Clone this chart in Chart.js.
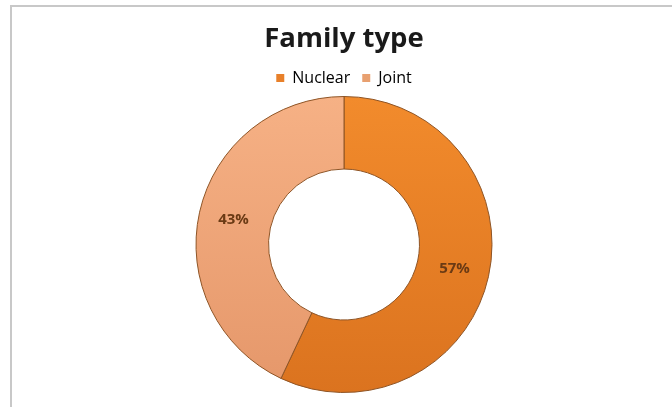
<!DOCTYPE html>
<html>
<head>
<meta charset="utf-8">
<script src="https://cdn.jsdelivr.net/npm/chart.js@4.4.1/dist/chart.umd.min.js"></script>
<style>
  html, body { margin: 0; padding: 0; background: #fff; }
  #wrap { position: relative; width: 672px; height: 407px; overflow: hidden; }
  #frame { position: absolute; left: 10px; top: 5px; width: 700px; height: 450px;
           border-top: 2px solid #c8c8c8; border-left: 2px solid #c8c8c8; box-sizing: border-box; }
  canvas { position: absolute; left: 0; top: 0; }
</style>
</head>
<body>
<div id="wrap">
  <div id="frame"></div>
  <canvas id="c" width="672" height="407"></canvas>
</div>
<script>
const titleText = "Family type";
const categories = ["Nuclear", "Joint"];
const values = [57, 43];
const valueLabels = ["57%", "43%"];

const topColors = ["#F28B2C", "#F6B185"];
const bottomColors = ["#DB731F", "#E5976A"];
const legendColors = ["#E8802A", "#E8A070"];

function grad(ctx, i) {
  const chart = ctx.chart;
  const a = chart.chartArea;
  if (!a) return topColors[i];
  const g = chart.ctx.createLinearGradient(0, a.top, 0, a.bottom);
  g.addColorStop(0, topColors[i]);
  g.addColorStop(1, bottomColors[i]);
  return g;
}

const labelPlugin = {
  id: 'sliceLabels',
  afterDatasetsDraw(chart) {
    const ctx = chart.ctx;
    const meta = chart.getDatasetMeta(0);
    ctx.save();
    ctx.font = 'bold 15px "Open Sans", sans-serif';
    ctx.fillStyle = '#6A3A14';
    ctx.textAlign = 'center';
    ctx.textBaseline = 'middle';
    meta.data.forEach((arc, i) => {
      const p = arc.getProps(['x','y','startAngle','endAngle','innerRadius','outerRadius'], true);
      const mid = (p.startAngle + p.endAngle) / 2;
      const r = p.innerRadius + 0.52 * (p.outerRadius - p.innerRadius);
      ctx.fillText(valueLabels[i], p.x + Math.cos(mid) * r, p.y + Math.sin(mid) * r);
    });
    ctx.restore();
  }
};

new Chart(document.getElementById('c'), {
  type: 'doughnut',
  data: {
    labels: categories,
    datasets: [{
      data: values,
      backgroundColor: (ctx) => grad(ctx, ctx.dataIndex),
      borderColor: '#8E5425',
      borderWidth: 1
    }]
  },
  options: {
    responsive: false,
    animation: false,
    cutout: '51%',
    layout: { padding: { left: 16, right: 0, top: 0, bottom: 14 } },
    plugins: {
      title: {
        display: true,
        text: titleText,
        color: '#1a1a1a',
        font: { family: '"Open Sans"', size: 27.5, weight: 'bold' },
        padding: { top: 23, bottom: 2 }
      },
      legend: {
        display: true,
        labels: {
          color: '#4F4F70',
          font: { family: '"Open Sans"', size: 16 },
          boxWidth: 8,
          boxHeight: 8,
          padding: 12,
          generateLabels: (chart) => categories.map((c, i) => ({
            text: c, fillStyle: legendColors[i], strokeStyle: legendColors[i],
            lineWidth: 0, index: i, hidden: false
          }))
        }
      },
      tooltip: { enabled: false }
    }
  },
  plugins: [labelPlugin]
});
</script>
</body>
</html>
